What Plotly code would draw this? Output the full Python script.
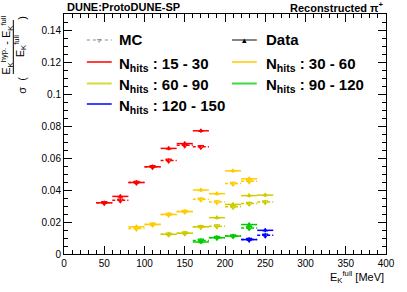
import plotly.graph_objects as go

# ---------------- data ----------------
red_x = [50, 70, 90, 110, 130, 150, 170]
red_data = [0.032, 0.036, 0.0447, 0.0545, 0.066, 0.069, 0.077]
red_mc = [0.032, 0.0336, 0.0447, 0.0545, 0.0585, 0.068, 0.067]

gold_x = [90, 110, 130, 150, 170, 190, 210, 230]
gold_data = [0.017, 0.0185, 0.0247, 0.0265, 0.040, 0.0377, 0.052, 0.047]
gold_mc = [0.016, 0.0185, 0.0247, 0.0265, 0.0342, 0.0325, 0.044, 0.0455]

olive_x = [130, 150, 170, 190, 210, 230, 250]
olive_data = [0.0123, 0.013, 0.017, 0.0227, 0.031, 0.0365, 0.0368]
olive_mc = [0.0123, 0.013, 0.017, 0.0174, 0.0295, 0.0315, 0.0325]

green_x = [170, 190, 210, 230]
green_data = [0.0075, 0.0102, 0.0112, 0.0184]
green_mc = [0.0085, 0.0102, 0.0112, 0.0163]

blue_x = [230, 250]
blue_data = [0.009, 0.0148]
blue_mc = [0.009, 0.0117]

bin_half = 10
y_err = 0.0012

series_labels = ["15 - 30", "30 - 60", "60 - 90", "90 - 120", "120 - 150"]
x_ticks = [0, 50, 100, 150, 200, 250, 300, 350, 400]
y_ticks = [0, 0.02, 0.04, 0.06, 0.08, 0.1, 0.12, 0.14]

colors = ["#ff0000", "#ffcc00", "#cccc00", "#00cc00", "#0000ff"]
series = [
    (red_x, red_data, red_mc),
    (gold_x, gold_data, gold_mc),
    (olive_x, olive_data, olive_mc),
    (green_x, green_data, green_mc),
    (blue_x, blue_data, blue_mc),
]

W, H = 407, 292
ML, MR, MT, MB = 64, 19, 14, 38

fig = go.Figure()

for (xs, yd, ym), col in zip(series, colors):
    # MC dashed horizontal bin widths
    sx, sy = [], []
    for c, v in zip(xs, ym):
        sx += [c - bin_half, c + bin_half, None]
        sy += [v, v, None]
    fig.add_trace(go.Scatter(x=sx, y=sy, mode="lines",
                             line=dict(color=col, width=1.5, dash="3px,2px"),
                             hoverinfo="skip", showlegend=False))
    fig.add_trace(go.Scatter(x=xs, y=ym, mode="markers",
                             marker=dict(symbol="triangle-down-open", size=5,
                                         color=col, line=dict(width=1.2, color=col)),
                             error_y=dict(type="constant", value=y_err, width=0,
                                          color=col, thickness=1.5),
                             showlegend=False))
    fig.add_trace(go.Scatter(x=xs, y=yd, mode="markers",
                             marker=dict(symbol="triangle-up", size=5, color=col),
                             error_x=dict(type="constant", value=bin_half, width=0,
                                          color=col, thickness=1.5),
                             error_y=dict(type="constant", value=y_err, width=0,
                                          color=col, thickness=1.5),
                             showlegend=False))

pw = W - ML - MR
ph = H - MT - MB


def px(x):
    return (x - ML) / pw


def py(y):
    return (H - MB - y) / ph


shapes = []
annotations = []

font_b = "Liberation Sans, Arial, sans-serif"

col1 = (87, 112, 117)
col2 = (233, 258, 265)

# MC entry
shapes.append(dict(type="line", xref="paper", yref="paper",
                   x0=px(col1[0]), x1=px(col1[1]), y0=py(40), y1=py(40),
                   line=dict(color="#888888", width=1.2, dash="dot")))
annotations.append(dict(xref="paper", yref="paper", x=px(99.5), y=py(40),
                        text="▿", showarrow=False, font=dict(size=8, color="#666666"),
                        xanchor="center", yanchor="middle"))
annotations.append(dict(xref="paper", yref="paper", x=px(col1[2]), y=py(40),
                        text="<b>MC</b>", showarrow=False,
                        font=dict(size=15, color="black", family=font_b),
                        xanchor="left", yanchor="middle"))
# Data entry
shapes.append(dict(type="line", xref="paper", yref="paper",
                   x0=px(col2[0]), x1=px(col2[1]), y0=py(40), y1=py(40),
                   line=dict(color="#333333", width=1.2)))
annotations.append(dict(xref="paper", yref="paper", x=px(245.5), y=py(40),
                        text="▴", showarrow=False, font=dict(size=9, color="black"),
                        xanchor="center", yanchor="middle"))
annotations.append(dict(xref="paper", yref="paper", x=px(col2[2]), y=py(40),
                        text="<b>Data</b>", showarrow=False,
                        font=dict(size=15, color="black", family=font_b),
                        xanchor="left", yanchor="middle"))

positions = [(col1, 62), (col2, 62), (col1, 83.5), (col2, 83.5), (col1, 104)]
for lab, col, (c, ry) in zip(series_labels, colors, positions):
    shapes.append(dict(type="line", xref="paper", yref="paper",
                       x0=px(c[0]), x1=px(c[1]), y0=py(ry), y1=py(ry),
                       line=dict(color=col, width=2), opacity=0.75))
    annotations.append(dict(xref="paper", yref="paper", x=px(c[2]), y=py(ry + 2),
                            text="<b>N<sub>hits</sub> : " + lab + "</b>", showarrow=False,
                            font=dict(size=15, color="black", family=font_b),
                            xanchor="left", yanchor="middle"))

# header texts
annotations.append(dict(xref="paper", yref="paper", x=px(65), y=py(7),
                        text="<b>DUNE:ProtoDUNE-SP</b>", showarrow=False,
                        font=dict(size=11, color="black", family=font_b),
                        xanchor="left", yanchor="middle"))
annotations.append(dict(xref="paper", yref="paper", x=px(388), y=py(7),
                        text="<b>Reconstructed π<sup>+</sup></b>", showarrow=False,
                        font=dict(size=11, color="black", family=font_b),
                        xanchor="right", yanchor="middle"))

# x-axis title
annotations.append(dict(xref="paper", yref="paper", x=px(388), y=py(277),
                        text="E<sub>K</sub><sup>full</sup> [MeV]", showarrow=False,
                        font=dict(size=11, color="black", family=font_b),
                        xanchor="right", yanchor="middle"))

# y-axis title (fraction built from pieces)
annotations.append(dict(xref="paper", yref="paper", x=px(21.5), y=py(90),
                        text="σ", showarrow=False, textangle=-90,
                        font=dict(size=11, color="black", family=font_b),
                        xanchor="center", yanchor="middle"))
annotations.append(dict(xref="paper", yref="paper", x=px(21.5), y=py(79),
                        text="(", showarrow=False, textangle=-90,
                        font=dict(size=11, color="black", family=font_b),
                        xanchor="center", yanchor="middle"))
annotations.append(dict(xref="paper", yref="paper", x=px(21.5), y=py(18),
                        text=")", showarrow=False, textangle=-90,
                        font=dict(size=11, color="black", family=font_b),
                        xanchor="center", yanchor="middle"))
annotations.append(dict(xref="paper", yref="paper", x=px(6.5), y=py(45),
                        text="E<sub>K</sub><sup>hyp.</sup> - E<sub>K</sub><sup>full</sup>",
                        showarrow=False, textangle=-90,
                        font=dict(size=11, color="black", family=font_b),
                        xanchor="center", yanchor="middle"))
annotations.append(dict(xref="paper", yref="paper", x=px(20), y=py(46),
                        text="E<sub>K</sub><sup>full</sup>",
                        showarrow=False, textangle=-90,
                        font=dict(size=11, color="black", family=font_b),
                        xanchor="center", yanchor="middle"))
shapes.append(dict(type="line", xref="paper", yref="paper",
                   x0=px(13), x1=px(13), y0=py(20), y1=py(74),
                   line=dict(color="black", width=1)))

axis_common = dict(
    showline=True, linecolor="black", linewidth=1, mirror="allticks",
    ticks="inside", ticklen=8, tickcolor="black", tickwidth=1,
    showgrid=False, zeroline=False,
    tickfont=dict(size=10, color="black", family=font_b),
)

fig.update_layout(
    width=W, height=H,
    margin=dict(l=ML, r=MR, t=MT, b=MB, pad=0),
    paper_bgcolor="white", plot_bgcolor="white",
    showlegend=False,
    xaxis=dict(range=[0, 400], tickvals=x_ticks, ticktext=[str(v) for v in x_ticks],
               minor=dict(dtick=10, ticklen=4, ticks="inside", tickcolor="black"),
               **axis_common),
    yaxis=dict(range=[0, 0.15], tickvals=y_ticks, ticktext=[f"{v:g}" for v in y_ticks],
               minor=dict(dtick=0.005, ticklen=4, ticks="inside", tickcolor="black"),
               **axis_common),
    shapes=shapes,
    annotations=annotations,
)

fig.write_html("out.html", config={"displayModeBar": False},
               post_script="document.body.style.margin='0px';document.body.style.overflow='hidden';")
